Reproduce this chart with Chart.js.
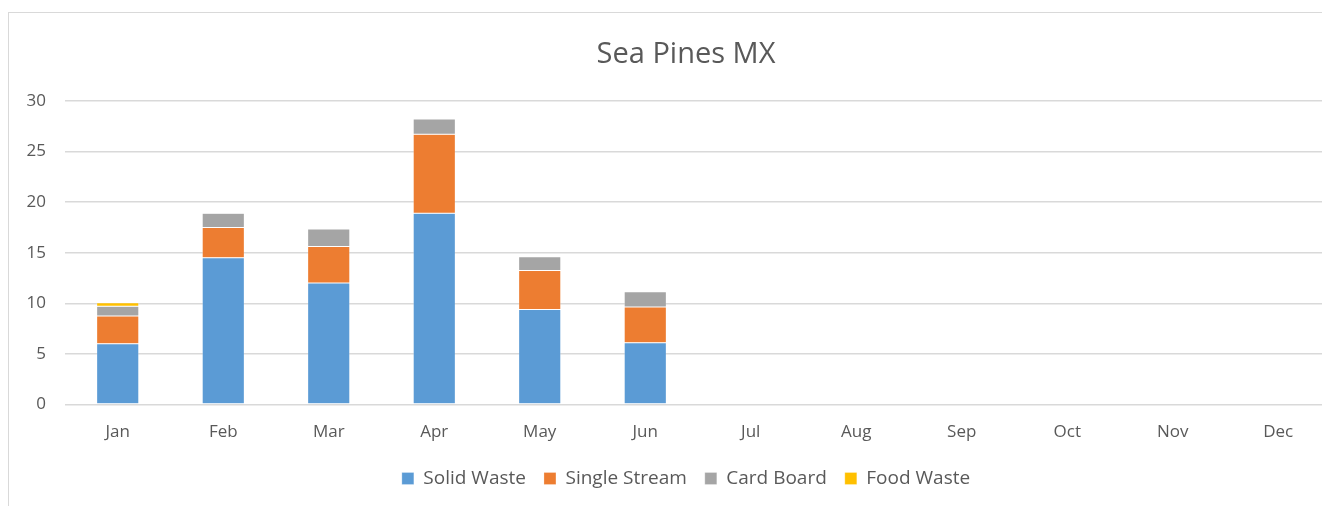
<!DOCTYPE html>
<html>
<head>
<meta charset="utf-8">
<script src="https://cdn.jsdelivr.net/npm/chart.js@4"></script>
<style>
  html, body { margin: 0; padding: 0; background: #fff; overflow: hidden; }
  #frame {
    position: absolute; left: 8px; top: 12px;
    width: 1356px; height: 520px;
    border: 1px solid #d9d9d9; box-sizing: border-box;
  }
  #wasteChart { position: absolute; left: 0; top: 0; }
</style>
</head>
<body>
<div id="frame">
  <canvas id="wasteChart" width="1354" height="485"></canvas>
</div>
<script>
const months = ['Jan', 'Feb', 'Mar', 'Apr', 'May', 'Jun', 'Jul', 'Aug', 'Sep', 'Oct', 'Nov', 'Dec'];
const solidWaste   = [6.0, 14.5, 12.0, 18.9, 9.4, 6.1, 0, 0, 0, 0, 0, 0];
const singleStream = [2.75, 3.0, 3.6, 7.8, 3.85, 3.55, 0, 0, 0, 0, 0, 0];
const cardBoard    = [0.95, 1.4, 1.75, 1.5, 1.35, 1.5, 0, 0, 0, 0, 0, 0];
const foodWaste    = [0.35, 0, 0, 0, 0, 0, 0, 0, 0, 0, 0, 0];
const yTicks = [0, 5, 10, 15, 20, 25, 30];

const textColor = '#595959';
const fontFamily = '"Open Sans", "Liberation Sans", sans-serif';

function series(label, data, color) {
  return {
    label: label,
    data: data,
    backgroundColor: color,
    borderColor: 'rgba(255,255,255,0.5)',
    borderWidth: 0.5,
    borderSkipped: false
  };
}

const ctx = document.getElementById('wasteChart').getContext('2d');
new Chart(ctx, {
  type: 'bar',
  data: {
    labels: months,
    datasets: [
      series('Solid Waste', solidWaste, '#5B9BD5'),
      series('Single Stream', singleStream, '#ED7D31'),
      series('Card Board', cardBoard, '#A5A5A5'),
      series('Food Waste', foodWaste, '#FFC000')
    ]
  },
  options: {
    responsive: false,
    animation: false,
    datasets: { bar: { categoryPercentage: 1.0, barPercentage: 0.4 } },
    layout: { padding: 0 },
    plugins: {
      tooltip: { enabled: false },
      title: {
        display: true,
        text: 'Sea Pines MX',
        color: textColor,
        font: { family: fontFamily, size: 29, weight: 'normal' },
        padding: { top: 24, bottom: 29 }
      },
      legend: {
        position: 'bottom',
        labels: {
          color: textColor,
          font: { family: fontFamily, size: 19 },
          boxWidth: 12,
          boxHeight: 12,
          padding: 18
        }
      }
    },
    scales: {
      x: {
        stacked: true,
        grid: { display: false },
        border: { color: '#d9d9d9' },
        ticks: { color: textColor, font: { family: fontFamily, size: 17 }, padding: 9 }
      },
      y: {
        stacked: true,
        min: 0,
        max: 30,
        afterBuildTicks: scale => { scale.ticks = yTicks.map(v => ({ value: v })); },
        afterFit: scale => { scale.width = 56; },
        grid: { color: '#d9d9d9', lineWidth: 1.5, drawTicks: false },
        border: { display: false },
        ticks: { color: textColor, font: { family: fontFamily, size: 17 }, padding: 19 }
      },
      // empty right-hand gutter so the plot stops short of the frame edge
      gutter: {
        type: 'linear',
        position: 'right',
        grid: { display: false },
        border: { display: false },
        ticks: { display: false },
        afterFit: scale => { scale.width = 32; }
      }
    }
  }
});
</script>
</body>
</html>
